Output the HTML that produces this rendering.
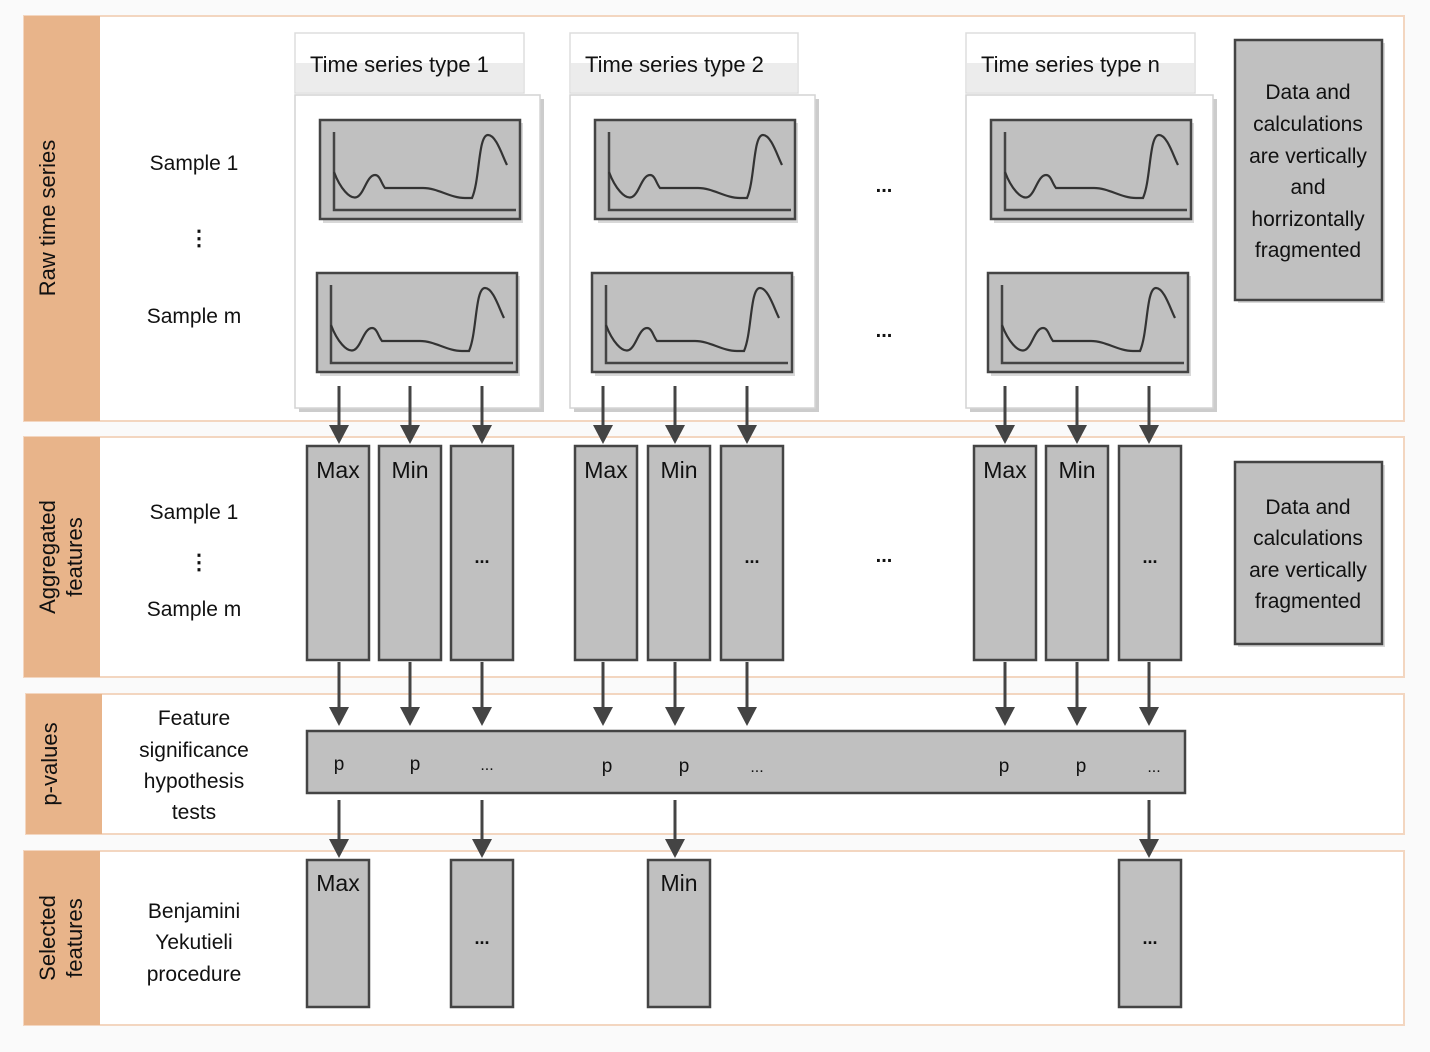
<!DOCTYPE html>
<html><head><meta charset="utf-8"><style>
html,body{margin:0;padding:0;background:#fafafa;}
svg{display:block;}
text{font-family:"Liberation Sans",sans-serif;fill:#111;}
</style></head><body>
<svg width="1430" height="1052" viewBox="0 0 1430 1052" xmlns="http://www.w3.org/2000/svg">
<defs>
<g id="chart">
<rect x="3" y="3" width="200" height="100" fill="#d8d8d8"/>
<rect x="0" y="0" width="200" height="99" fill="#c0c0c0" stroke="#444" stroke-width="2.5"/>
<path d="M14 12 V90 H196" fill="none" stroke="#444" stroke-width="2.5"/>
<path d="M14 52 C20 68 30 80 37 77 C44 74 47 55 55 55 C60 55 61 63 65 68 L103 68 C118 68 130 78 145 78 L152 78 C160 60 158 15 168 15 C176 15 182 35 187 45" fill="none" stroke="#333" stroke-width="2.2"/>
</g>
<g id="ah"><polygon points="-10,-19 10,-19 0,0" fill="#444"/></g>
</defs>

<g stroke="#f3d6c0" stroke-width="2" fill="#fff">
<rect x="24" y="16" width="1380" height="405"/>
<rect x="24" y="437" width="1380" height="240"/>
<rect x="26" y="694" width="1378" height="140"/>
<rect x="24" y="851" width="1380" height="174"/>
</g>
<g fill="#e8b48a">
<rect x="24" y="16" width="76" height="405"/>
<rect x="24" y="437" width="76" height="240"/>
<rect x="26" y="694" width="76" height="140"/>
<rect x="24" y="851" width="76" height="174"/>
</g>
<g font-size="22" text-anchor="middle">
<text transform="translate(55,218) rotate(-90)">Raw time series</text>
<text transform="translate(55,557) rotate(-90)">Aggregated</text>
<text transform="translate(82,557) rotate(-90)">features</text>
<text transform="translate(57,764) rotate(-90)">p-values</text>
<text transform="translate(55,938) rotate(-90)">Selected</text>
<text transform="translate(82,938) rotate(-90)">features</text>
</g>

<g font-size="21" text-anchor="middle">
<text x="194" y="170">Sample 1</text>
<text x="199" y="245" font-weight="bold">⋮</text>
<text x="194" y="323">Sample m</text>
<text x="194" y="519">Sample 1</text>
<text x="199" y="569" font-weight="bold">⋮</text>
<text x="194" y="616">Sample m</text>
<text x="194" y="725">Feature</text>
<text x="194" y="757">significance</text>
<text x="194" y="788">hypothesis</text>
<text x="194" y="819">tests</text>
<text x="194" y="918">Benjamini</text>
<text x="194" y="949">Yekutieli</text>
<text x="194" y="981">procedure</text>
</g>

<g>
<rect x="299" y="99" width="245" height="313" fill="#ccc"/>
<rect x="295" y="95" width="245" height="313" fill="#fff" stroke="#d4d4d4" stroke-width="1.5"/>
<rect x="295" y="33" width="229" height="60" fill="#fff" stroke="#ddd" stroke-width="1.5"/>
<rect x="296" y="63" width="227" height="29" fill="#ececec"/>
<text x="310" y="72" font-size="22">Time series type 1</text>
<use href="#chart" x="320" y="120"/>
<use href="#chart" x="317" y="273"/>

<rect x="574" y="99" width="245" height="313" fill="#ccc"/>
<rect x="570" y="95" width="245" height="313" fill="#fff" stroke="#d4d4d4" stroke-width="1.5"/>
<rect x="570" y="33" width="228" height="60" fill="#fff" stroke="#ddd" stroke-width="1.5"/>
<rect x="571" y="63" width="226" height="29" fill="#ececec"/>
<text x="585" y="72" font-size="22">Time series type 2</text>
<use href="#chart" x="595" y="120"/>
<use href="#chart" x="592" y="273"/>

<rect x="970" y="99" width="247" height="313" fill="#ccc"/>
<rect x="966" y="95" width="247" height="313" fill="#fff" stroke="#d4d4d4" stroke-width="1.5"/>
<rect x="966" y="33" width="229" height="60" fill="#fff" stroke="#ddd" stroke-width="1.5"/>
<rect x="967" y="63" width="227" height="29" fill="#ececec"/>
<text x="981" y="72" font-size="22">Time series type n</text>
<use href="#chart" x="991" y="120"/>
<use href="#chart" x="988" y="273"/>
</g>

<g font-size="20" font-weight="bold" text-anchor="middle">
<text x="884" y="192">...</text>
<text x="884" y="337">...</text>
<text x="884" y="562">...</text>
</g>

<g>
<rect x="1238" y="43" width="147" height="260" fill="#d8d8d8"/>
<rect x="1235" y="40" width="147" height="260" fill="#c0c0c0" stroke="#444" stroke-width="2.5"/>
<rect x="1238" y="465" width="147" height="182" fill="#d8d8d8"/>
<rect x="1235" y="462" width="147" height="182" fill="#c0c0c0" stroke="#444" stroke-width="2.5"/>
<g font-size="21" text-anchor="middle">
<text x="1308" y="99">Data and</text>
<text x="1308" y="131">calculations</text>
<text x="1308" y="163">are vertically</text>
<text x="1308" y="194">and</text>
<text x="1308" y="226">horrizontally</text>
<text x="1308" y="257">fragmented</text>
<text x="1308" y="514">Data and</text>
<text x="1308" y="545">calculations</text>
<text x="1308" y="577">are vertically</text>
<text x="1308" y="608">fragmented</text>
</g>
</g>

<g stroke="#444" stroke-width="3">
<path d="M339 386V426M410 386V426M482 386V426M603 386V426M675 386V426M747 386V426M1005 386V426M1077 386V426M1149 386V426"/>
<path d="M339 662V708M410 662V708M482 662V708M603 662V708M675 662V708M747 662V708M1005 662V708M1077 662V708M1149 662V708"/>
<path d="M339 800V840M482 800V840M675 800V840M1149 800V840"/>
</g>
<g>
<use href="#ah" x="339" y="444"/><use href="#ah" x="410" y="444"/><use href="#ah" x="482" y="444"/>
<use href="#ah" x="603" y="444"/><use href="#ah" x="675" y="444"/><use href="#ah" x="747" y="444"/>
<use href="#ah" x="1005" y="444"/><use href="#ah" x="1077" y="444"/><use href="#ah" x="1149" y="444"/>
<use href="#ah" x="339" y="726"/><use href="#ah" x="410" y="726"/><use href="#ah" x="482" y="726"/>
<use href="#ah" x="603" y="726"/><use href="#ah" x="675" y="726"/><use href="#ah" x="747" y="726"/>
<use href="#ah" x="1005" y="726"/><use href="#ah" x="1077" y="726"/><use href="#ah" x="1149" y="726"/>
<use href="#ah" x="339" y="858"/><use href="#ah" x="482" y="858"/><use href="#ah" x="675" y="858"/><use href="#ah" x="1149" y="858"/>
</g>

<g fill="#c0c0c0" stroke="#444" stroke-width="2.5">
<rect x="307" y="446" width="62" height="214"/><rect x="379" y="446" width="62" height="214"/><rect x="451" y="446" width="62" height="214"/>
<rect x="575" y="446" width="62" height="214"/><rect x="648" y="446" width="62" height="214"/><rect x="721" y="446" width="62" height="214"/>
<rect x="974" y="446" width="62" height="214"/><rect x="1046" y="446" width="62" height="214"/><rect x="1119" y="446" width="62" height="214"/>
<rect x="307" y="731" width="878" height="62"/>
<rect x="307" y="860" width="62" height="147"/><rect x="451" y="860" width="62" height="147"/>
<rect x="648" y="860" width="62" height="147"/><rect x="1119" y="860" width="62" height="147"/>
</g>
<g font-size="23" text-anchor="middle">
<text x="338" y="478">Max</text><text x="410" y="478">Min</text>
<text x="606" y="478">Max</text><text x="679" y="478">Min</text>
<text x="1005" y="478">Max</text><text x="1077" y="478">Min</text>
<text x="338" y="891">Max</text><text x="679" y="891">Min</text>
</g>
<g font-size="18" font-weight="bold" text-anchor="middle">
<text x="482" y="563">...</text><text x="752" y="563">...</text><text x="1150" y="563">...</text>
<text x="482" y="944">...</text><text x="1150" y="944">...</text>
</g>
<g font-size="16" text-anchor="middle">
<text x="487" y="770">...</text><text x="757" y="772">...</text><text x="1154" y="772">...</text>
</g>
<g font-size="19" text-anchor="middle">
<text x="339" y="770">p</text><text x="415" y="770">p</text>
<text x="607" y="772">p</text><text x="684" y="772">p</text>
<text x="1004" y="772">p</text><text x="1081" y="772">p</text>
</g>
</svg>
</body></html>
